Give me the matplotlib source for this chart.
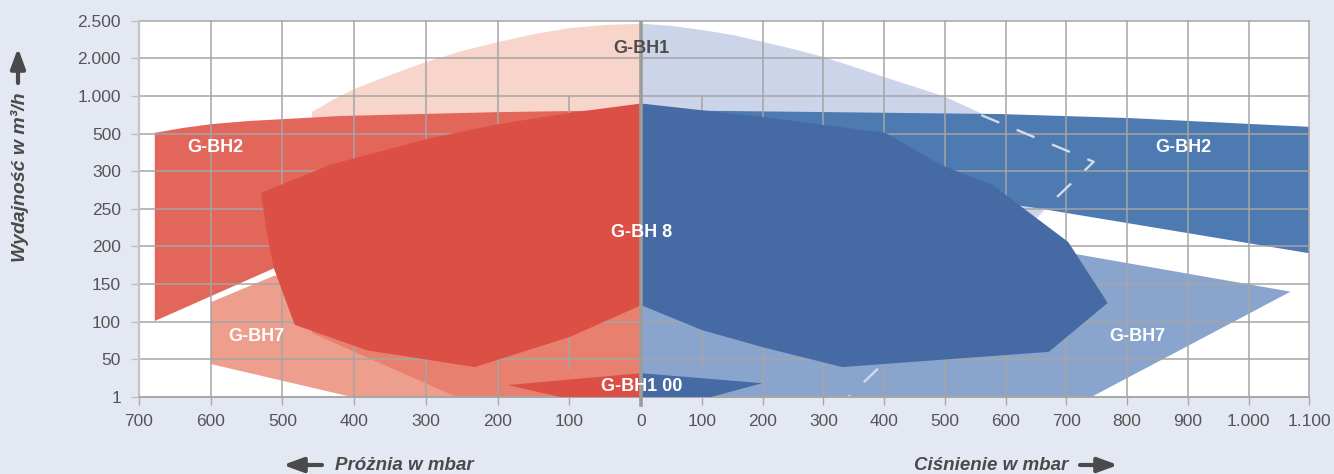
import numpy as np
import matplotlib.pyplot as plt

plt.rcParams['font.family'] = ['Liberation Sans', 'DejaVu Sans']

# y axis steps in m3/h, drawn evenly spaced like in the catalogue chart
y_steps = [1, 50, 100, 150, 200, 250, 300, 500, 1000, 2000, 2500]
y_labels = ['1', '50', '100', '150', '200', '250', '300', '500', '1.000', '2.000', '2.500']

# x axis: vacuum side is negative mbar, pressure side positive mbar
x_ticks = [-700, -600, -500, -400, -300, -200, -100, 0,
           100, 200, 300, 400, 500, 600, 700, 800, 900, 1000, 1100]
x_labels = ['700', '600', '500', '400', '300', '200', '100', '0',
            '100', '200', '300', '400', '500', '600', '700', '800', '900', '1.000', '1.100']

# G-BH1
bh1_vac_x = [0, -50, -100, -149, -199, -250, -300, -350, -400, -430, -459, -459, -257, 0]
bh1_vac_y = [2460, 2443, 2403, 2323, 2217, 2097, 1902, 1557, 1185, 946, 787, 85, 1, 1]
bh1_prs_x = [0, 51, 100, 151, 201, 250, 300, 351, 400, 451, 501, 537, 572, 745, 341, 0]
bh1_prs_y = [2460, 2430, 2377, 2310, 2217, 2124, 2018, 1770, 1504, 1238, 986, 853, 720,
             350, 1, 1]
bh1_hidden_x = [560, 745, 341]
bh1_hidden_y = [745, 350, 1]

# G-BH2
bh2_vac_x = [0, -197, -308, -420, -498, -548, -598, -639, -678, -678, -512, 0]
bh2_vac_y = [813, 786, 760, 734, 693, 667, 627, 575, 510, 101, 171, 400]
bh2_prs_x = [0, 591, 802, 1100, 1100, 652, 0]
bh2_prs_y = [813, 760, 707, 590, 191, 251, 400]

# G-BH7
bh7_vac_x = [0, -512, -600, -600, -403, 0]
bh7_vac_y = [200, 161, 126, 44, 1, 1]
bh7_prs_x = [0, 708, 1069, 741, 0]
bh7_prs_y = [200, 191, 140, 1, 1]

# G-BH 8
bh8_vac_x = [0, -100, -199, -294, -434, -530, -520, -512, -483, -382, -232, -99, 0]
bh8_vac_y = [900, 775, 625, 476, 334, 271, 208, 171, 96, 62, 40, 80, 122]
bh8_prs_x = [0, 100, 201, 300, 402, 493, 578, 703, 768, 671, 331, 201, 100, 0]
bh8_prs_y = [900, 810, 720, 615, 510, 334, 282, 206, 125, 60, 40, 66, 89, 122]

# G-BH1 00
bh100_vac_x = [0, -186, -113, 0]
bh100_vac_y = [32, 16.6, 1, 1]
bh100_prs_x = [0, 199, 115, 0]
bh100_prs_y = [32, 19, 1, 1]

# scales
idx = np.arange(len(y_steps), dtype=float)
y_ext = np.r_[1 - 49 * 100, y_steps, 2500 + 500 * 100]
i_ext = np.r_[-100, idx, 110]


def y_fwd(v):
    return np.interp(v, y_ext, i_ext)


def y_inv(u):
    return np.interp(u, i_ext, y_ext)


def x_fwd(x):
    x = np.asarray(x, float)
    return np.where(x < 0, x * 0.717, x * 0.607)


def x_inv(u):
    u = np.asarray(u, float)
    return np.where(u < 0, u / 0.717, u / 0.607)


fig = plt.figure(figsize=(13.34, 4.74), dpi=100, facecolor='#e4e8f3')
ax = fig.add_axes([0.1042, 0.1624, 0.8773, 0.7939])
ax.set_facecolor('white')
ax.set_xscale('function', functions=(x_fwd, x_inv))
ax.set_yscale('function', functions=(y_fwd, y_inv))
ax.set_xlim(-700, 1100)
ax.set_ylim(1, 2500)

# shapes, back to front
ax.fill(bh1_vac_x, bh1_vac_y, color='#f7d5cb', lw=0, zorder=1)
ax.fill(bh1_prs_x, bh1_prs_y, color='#cbd4e9', lw=0, zorder=1)
bh7_left = ax.fill(bh7_vac_x, bh7_vac_y, color='#ee9e8c', lw=0, zorder=1.2)[0]
ax.fill(bh7_prs_x, bh7_prs_y, color='#8aa5cd', lw=0, zorder=1.2)
overlap = ax.fill(bh1_vac_x, bh1_vac_y, color='#e7806f', lw=0, zorder=1.3)[0]
overlap.set_clip_path(bh7_left)
ax.fill(bh2_vac_x, bh2_vac_y, color='#e3665b', lw=0, zorder=1.5)
ax.fill(bh2_prs_x, bh2_prs_y, color='#4c7ab1', lw=0, zorder=1.5)

# grid
grid_c = '#a5a5a5'
for x in x_ticks:
    if x in (-100, 0, 100):
        continue
    ax.axvline(x, color=grid_c, lw=1.1, zorder=2, clip_on=False)
ax.vlines([-100, 100], 36, 1000, color=grid_c, lw=1.1, zorder=2)
for y in y_steps:
    ax.axhline(y, color=grid_c, lw=1.1, zorder=2, clip_on=False)

ax.plot(bh1_hidden_x, bh1_hidden_y, color='#d3daec', lw=1.7, dashes=(8.2, 8), zorder=2.5)

ax.fill(bh8_vac_x, bh8_vac_y, color='#dc4f45', lw=0, zorder=3)
ax.fill(bh8_prs_x, bh8_prs_y, color='#466aa3', lw=0, zorder=3)
ax.fill(bh100_vac_x, bh100_vac_y, color='#dc4f45', lw=0, zorder=3.2)
ax.fill(bh100_prs_x, bh100_prs_y, color='#466aa3', lw=0, zorder=3.2)

ax.axvline(0, ymin=-0.022, ymax=0.993, color='#9c9c9c', lw=2.6, clip_on=False, zorder=4)

# labels of the pumps
lab = dict(ha='center', va='center', fontsize=13, fontweight='bold', color='white', zorder=5)
ax.text(-593, 424, 'G-BH2', **lab)
ax.text(893, 424, 'G-BH2', **lab)
ax.text(-536, 80, 'G-BH7', **lab)
ax.text(817, 80, 'G-BH7', **lab)
ax.text(0, 218, 'G-BH 8', **lab)
ax.text(0, 15, 'G-BH1 00', **lab)
ax.text(0, 2137, 'G-BH1', ha='center', va='center', fontsize=13, fontweight='bold',
        color='#4d4d4d', zorder=5)

# axes
ax.set_xticks(x_ticks)
ax.set_xticklabels(x_labels)
ax.set_yticks(y_steps)
ax.set_yticklabels(y_labels)
ax.tick_params(axis='x', length=6, width=1, color='#a8a8a8', pad=6.5,
               labelsize=12.5, labelcolor='#555555')
ax.tick_params(axis='y', length=6, width=1, color='#c0c0c0', pad=7,
               labelsize=12.5, labelcolor='#555555')
for s in ('top', 'right'):
    ax.spines[s].set_visible(False)
ax.spines['left'].set_color('#c4c4c4')
ax.spines['left'].set_linewidth(1.6)
ax.spines['bottom'].set_color('#a5a5a5')
ax.spines['bottom'].set_linewidth(1.1)

txt = dict(fontsize=13.5, fontweight='bold', style='italic', color='#4a4a4a')
fig.text(335 / 1334, 1 - 465 / 474, 'Próżnia w mbar', ha='left', va='center', **txt)
fig.text(1068 / 1334, 1 - 465 / 474, 'Ciśnienie w mbar', ha='right', va='center', **txt)
fig.text(20 / 1334, 1 - 177 / 474, 'Wydajność w m³/h', ha='center', va='center',
         rotation=90, fontsize=14, fontweight='bold', style='italic', color='#4a4a4a')

arr = dict(arrowstyle='-|>,head_length=0.6,head_width=0.22', lw=3, color='#4a4a4a',
           mutation_scale=20, shrinkA=0, shrinkB=0)
ax.annotate('', xy=(283, 9), xytext=(322, 9), xycoords='figure pixels',
            textcoords='figure pixels', arrowprops=arr, annotation_clip=False)
ax.annotate('', xy=(1118, 9), xytext=(1080, 9), xycoords='figure pixels',
            textcoords='figure pixels', arrowprops=arr, annotation_clip=False)
ax.annotate('', xy=(18, 426), xytext=(18, 391), xycoords='figure pixels',
            textcoords='figure pixels', arrowprops=arr, annotation_clip=False)

fig.savefig('out.png', dpi=100, facecolor=fig.get_facecolor())
